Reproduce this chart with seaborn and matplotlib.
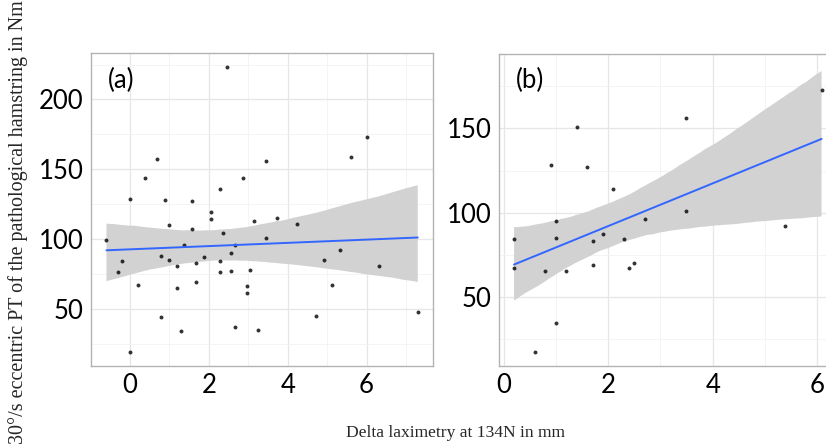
import numpy as np
import pandas as pd
import matplotlib
matplotlib.use("Agg")
import matplotlib.pyplot as plt
import seaborn as sns
from matplotlib.ticker import MultipleLocator

# Panel (a)
a_x = [-0.60, -0.30, -0.20, 0.00, 0.00, 0.19, 0.39, 0.68, 0.79, 0.79, 0.88, 0.99, 0.99,
       1.18, 1.18, 1.28, 1.38, 1.57, 1.57, 1.67, 1.67, 1.87, 2.06, 2.06, 2.27, 2.27, 2.27,
       2.37, 2.47, 2.56, 2.56, 2.66, 2.66, 2.86, 2.96, 2.96, 3.05, 3.15, 3.25, 3.45, 3.45,
       3.74, 4.24, 4.73, 4.93, 5.12, 5.33, 5.61, 6.02, 6.31, 7.30]
a_y = [99, 76, 84, 129, 19, 67, 144, 157, 88, 44, 128, 110, 85,
       81, 65, 34, 96, 127, 107, 83, 69, 87, 119, 114, 136, 84, 76,
       104, 223, 90, 77, 96, 37, 144, 66, 61, 78, 113, 35, 156, 101,
       115, 111, 45, 85, 67, 92, 159, 173, 81, 48]

# Panel (b)
b_x = [0.20, 0.20, 0.60, 0.80, 0.90, 1.00, 1.00, 1.00, 1.20, 1.40, 1.60, 1.70, 1.70,
       1.90, 2.10, 2.30, 2.40, 2.50, 2.70, 3.49, 3.49, 5.38, 6.08]
b_y = [84, 67, 17, 65, 128, 95, 85, 34, 65, 151, 127, 83, 69,
       87, 114, 84, 67, 70, 96, 156, 101, 92, 173]

panel_labels = ["(a)", "(b)"]
x_ticks = [0, 2, 4, 6]
a_y_ticks = [50, 100, 150, 200]
b_y_ticks = [50, 100, 150]
x_label = "Delta laximetry at 134N in mm"
y_label = "30°/s eccentric PT of the pathological hamstring in Nm"

sns.set_style("white")
plt.rcParams['font.family'] = ['Lato', 'DejaVu Sans']

fig = plt.figure(figsize=(8.26, 4.44), dpi=100)
ax_a = fig.add_axes([0.1098, 0.1757, 0.415, 0.704])
ax_b = fig.add_axes([0.604, 0.1757, 0.409, 0.703])

dfa = pd.DataFrame({"x": a_x, "y": a_y})
dfb = pd.DataFrame({"x": b_x, "y": b_y})

for ax, df, lab, xl, yl, yt in [
    (ax_a, dfa, panel_labels[0], (-1.0, 7.7), (9, 233), a_y_ticks),
    (ax_b, dfb, panel_labels[1], (-0.09, 6.37), (8.7, 194.4), b_y_ticks),
]:
    sns.regplot(data=df, x="x", y="y", ax=ax, ci=95, n_boot=2000, seed=1,
                scatter_kws=dict(s=8, color="black", linewidths=0, zorder=3),
                line_kws=dict(color="#3366FF", lw=1.4, zorder=4))
    for coll in ax.collections:
        name = coll.__class__.__name__
        if "Poly" in name:
            coll.set_facecolor("#D2D2D2")
            coll.set_alpha(1.0)
            coll.set_edgecolor("none")
            coll.set_zorder(2)
    ax.set_xlim(*xl)
    ax.set_ylim(*yl)
    ax.set_xticks(x_ticks)
    ax.set_yticks(yt)
    ax.xaxis.set_minor_locator(MultipleLocator(1))
    ax.yaxis.set_minor_locator(MultipleLocator(25))
    ax.grid(True, which="major", color="#E6E6E6", lw=0.9, zorder=0)
    ax.grid(True, which="minor", color="#F2F2F2", lw=0.6, zorder=0)
    ax.set_axisbelow(True)
    ax.tick_params(axis="both", which="both", length=0, labelsize=18.5, pad=5, labelcolor="black")
    for s in ax.spines.values():
        s.set_color("#B3B3B3")
        s.set_linewidth(1.0)
    ax.set_xlabel("")
    ax.set_ylabel("")
    ax.text(0.05, 0.915, lab, transform=ax.transAxes, fontsize=18.5, ha="left", va="center",
            color="black")

fig.text(0.551, 0.025, x_label, ha="center", va="center", fontsize=12.6,
         family=["Liberation Serif", "DejaVu Serif"])
fig.text(0.022, 0.5, y_label, ha="center", va="center", rotation=90, fontsize=14.5,
         family=["Liberation Serif", "DejaVu Serif"])

fig.savefig("out.png", dpi=100)
